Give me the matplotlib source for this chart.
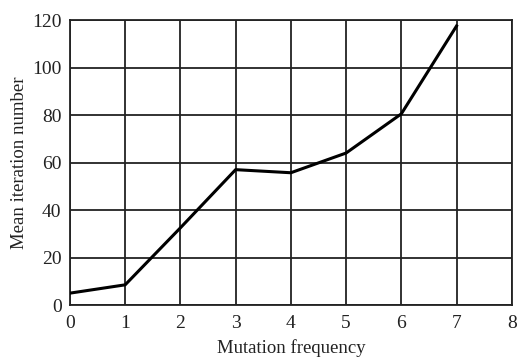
import matplotlib
matplotlib.use('Agg')
import matplotlib.pyplot as plt

# data
mutation_freq = [0, 1, 2, 3, 4, 5, 6, 7]
mean_iter = [5, 8.5, 32.5, 57, 55.7, 64, 80.5, 117.5]

x_ticks = [0, 1, 2, 3, 4, 5, 6, 7, 8]
y_ticks = [0, 20, 40, 60, 80, 100, 120]

plt.rcParams['font.family'] = ['Liberation Serif', 'DejaVu Serif']

fig = plt.figure(figsize=(5.18, 3.58), dpi=100)
ax = fig.add_axes([0.135, 0.148, 0.853, 0.796])

ax.plot(mutation_freq, mean_iter, color='black', linewidth=2.2, zorder=3)

ax.set_xlim(0, 8)
ax.set_ylim(0, 120)
ax.set_xticks(x_ticks)
ax.set_yticks(y_ticks)
ax.grid(True, color='#222222', linewidth=1.3)
ax.tick_params(length=0, labelsize=14, colors='#222222')
ax.tick_params(axis='x', pad=7)
ax.tick_params(axis='y', pad=6)
for s in ax.spines.values():
    s.set_color('#222222')
    s.set_linewidth(1.3)

ax.set_xlabel('Mutation frequency', fontsize=13.5, color='#222222', labelpad=5)
ax.set_ylabel('Mean iteration number', fontsize=13.5, color='#222222', labelpad=3)

fig.savefig('out.png', dpi=100)
